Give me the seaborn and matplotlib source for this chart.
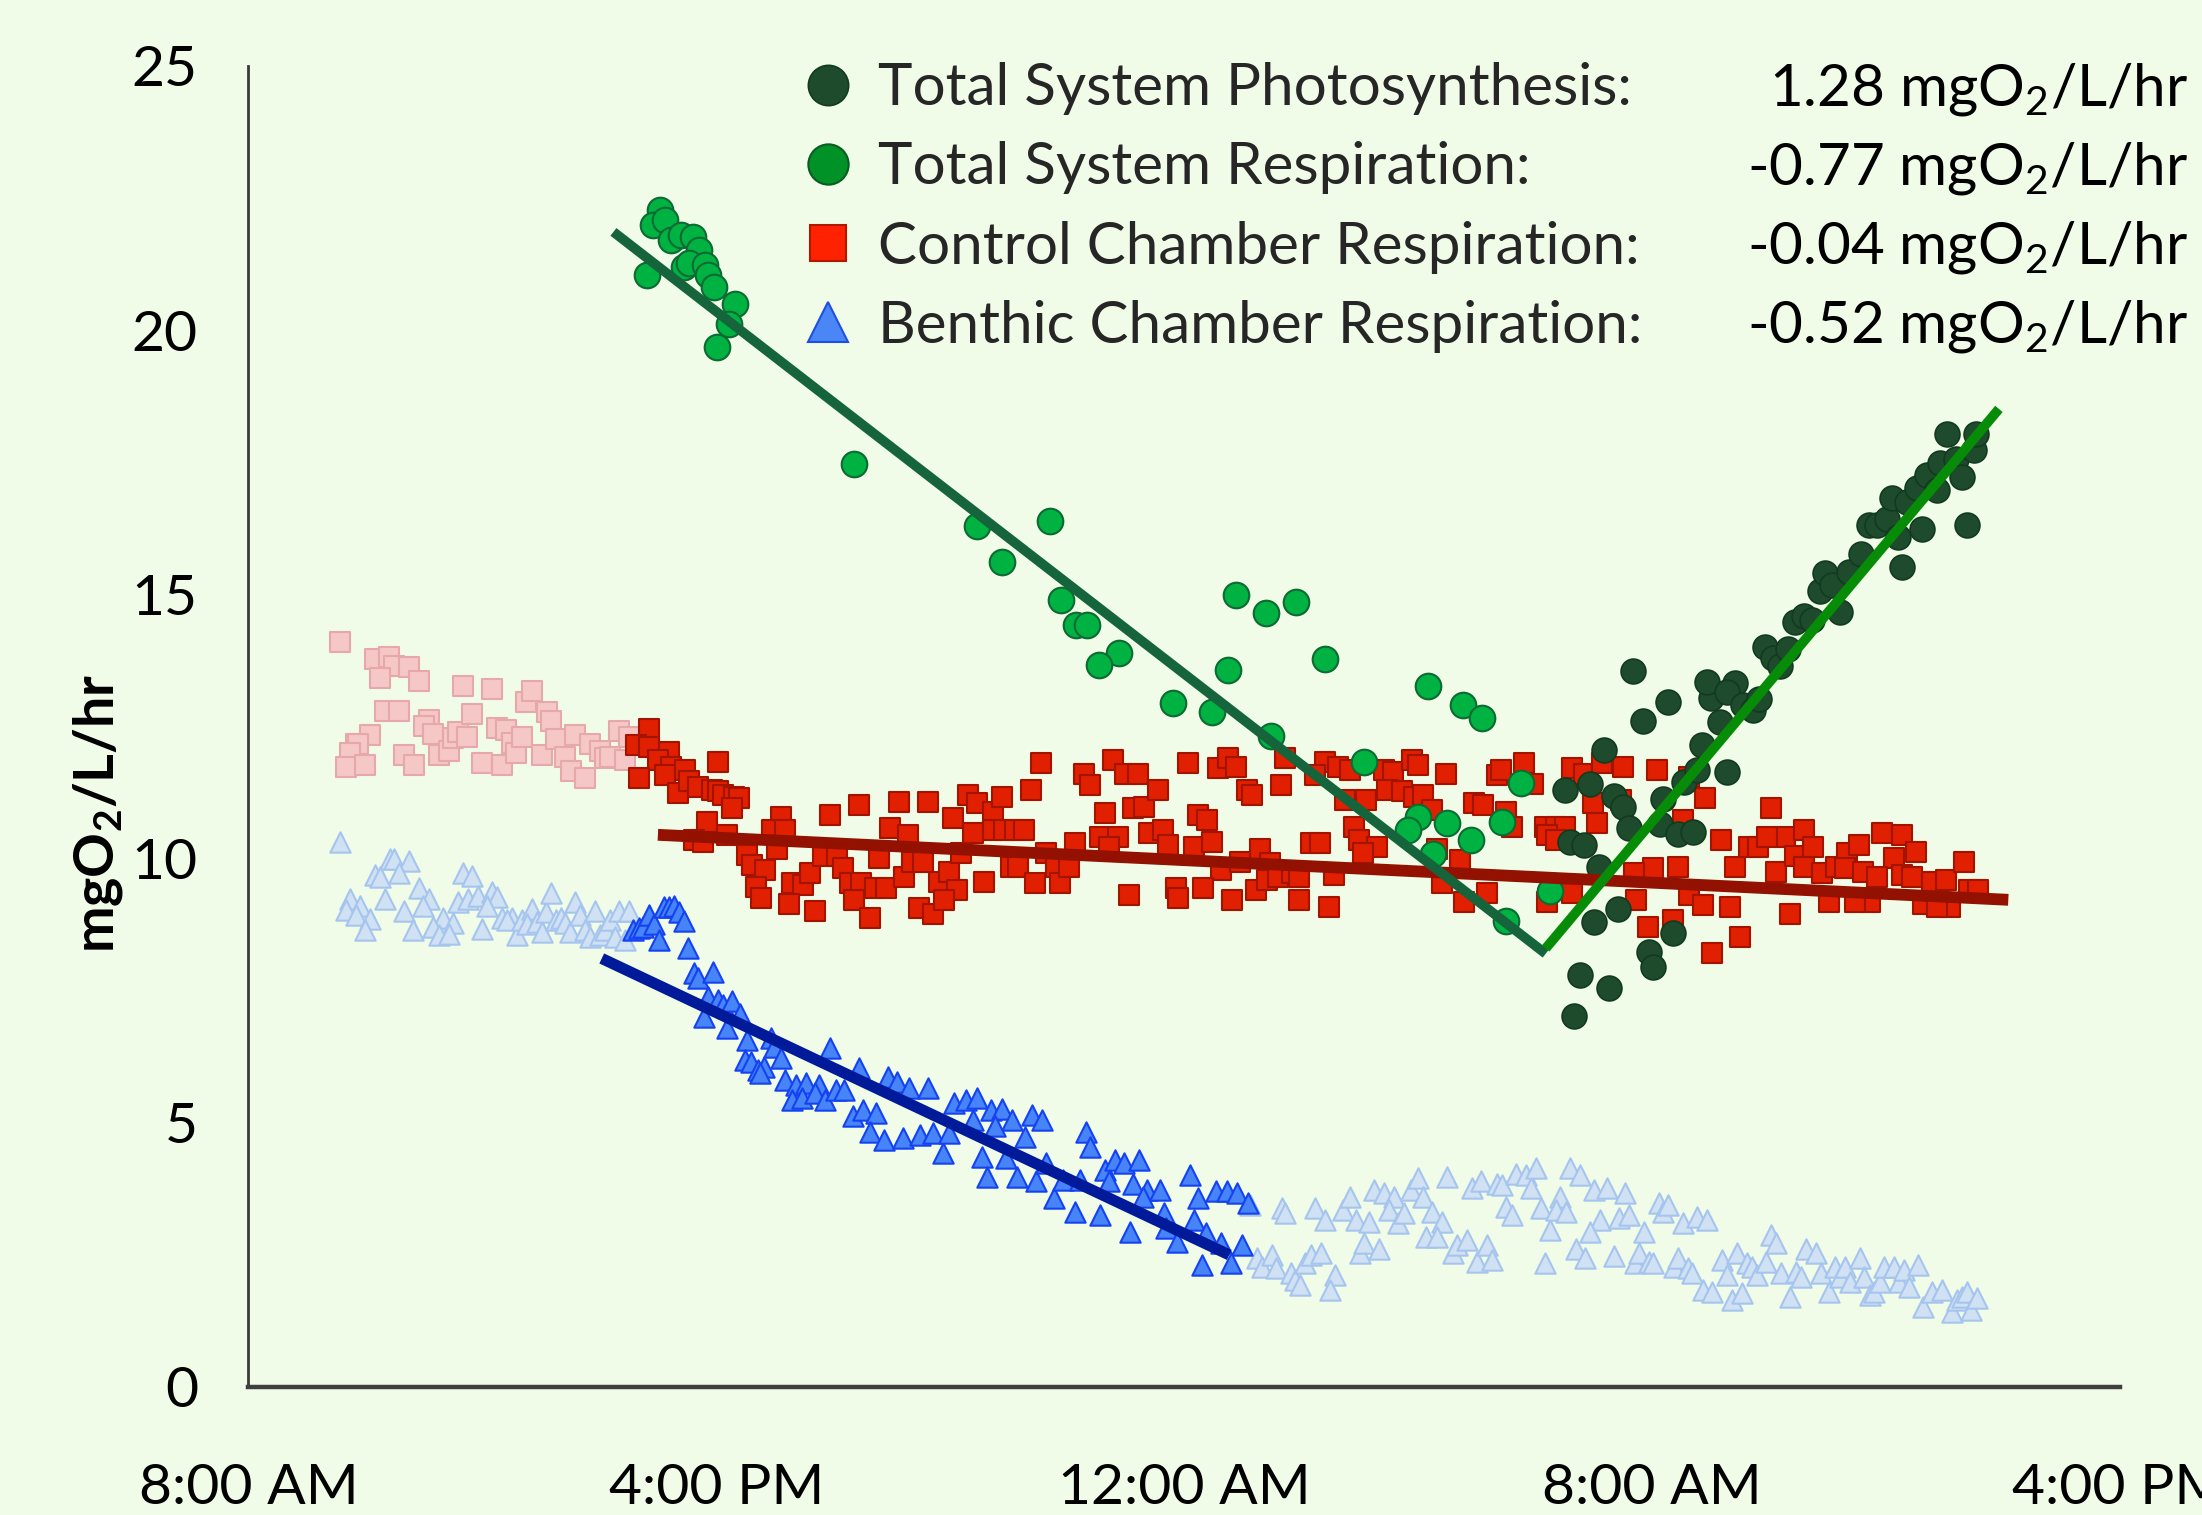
import matplotlib
matplotlib.use("Agg")
import matplotlib.pyplot as plt
import seaborn as sns
import pandas as pd
from matplotlib.lines import Line2D

# ---------------- data (x = hours after 8:00 AM of day 1) ----------------
tick_hours = [0, 8, 16, 24, 32]
tick_labels = ["8:00 AM", "4:00 PM", "12:00 AM", "8:00 AM", "4:00 PM"]
y_ticks = [0, 5, 10, 15, 20, 25]

legend_labels = ["Total System Photosynthesis:", "Total System Respiration:",
                 "Control Chamber Respiration:", "Benthic Chamber Respiration:"]
legend_rates = ["1.28", "-0.77", "-0.04", "-0.52"]

# Control chamber, points excluded from the fit (pale)
ctrl_excl_hours = [1.57, 2.16, 2.41, 2.49, 2.74, 2.91, 2.24, 2.33, 2.58, 2.07,
                   1.83, 1.87, 1.74, 1.66, 1.99, 2.66, 2.83, 3.08, 3.00, 3.16,
                   3.25, 3.42, 3.50, 3.59, 3.66, 3.83, 3.74, 4.00, 4.17, 4.25,
                   4.33, 4.41, 4.50, 4.58, 4.67, 4.75, 4.84, 5.10, 5.18, 5.01,
                   5.26, 5.42, 5.51, 5.59, 5.76, 5.84, 6.01, 6.10, 6.18, 6.34,
                   6.43, 6.51]
ctrl_excl_vals = [14.10, 13.78, 13.81, 13.64, 13.63, 13.36, 13.42, 12.80, 12.79, 12.34,
                  12.17, 12.17, 12.00, 11.73, 11.77, 11.96, 11.78, 12.63, 12.50, 12.36,
                  11.97, 12.03, 12.28, 12.40, 13.27, 12.74, 12.31, 11.81, 13.21, 12.47,
                  11.78, 12.44, 12.19, 12.00, 12.31, 12.97, 13.17, 12.78, 12.60, 11.96,
                  12.27, 11.93, 11.66, 12.34, 11.52, 12.16, 12.03, 11.90, 11.93, 12.42,
                  11.86, 12.31]

# Benthic chamber, points excluded from the fit (pale)
benth_excl_hours = [1.57, 2.42, 2.49, 2.74, 2.16, 2.24, 2.57, 1.74, 1.91, 1.66,
                    1.83, 2.08, 1.99, 2.33, 2.91, 3.08, 2.99, 2.66, 2.82, 3.33,
                    3.16, 3.50, 3.25, 3.42, 3.66, 3.83, 3.58, 3.75, 3.92, 4.17,
                    4.25, 4.08, 4.00, 4.34, 4.50, 4.42, 4.59, 4.67, 4.84, 4.76,
                    4.93, 5.01, 5.09, 5.18, 5.26, 5.34, 5.42, 5.50, 5.59, 5.67,
                    5.75, 5.84, 5.92, 6.01, 6.10, 6.18, 6.26, 6.34, 6.43, 6.51,
                    17.12, 17.67, 17.73, 18.23, 18.41, 18.71, 18.83, 18.93, 19.16, 19.24,
                    19.41, 19.58, 19.50, 19.66, 19.75, 19.88, 20.00, 20.08, 20.23, 20.41,
                    20.14, 20.33, 20.50, 20.92, 21.08, 21.35, 21.43, 21.51, 21.60, 21.68,
                    21.85, 21.93, 22.02, 22.10, 22.26, 22.43, 22.35, 22.52, 22.60, 22.77,
                    23.01, 23.23, 23.53, 23.11, 22.94, 23.44, 23.61, 23.86, 24.11, 24.19,
                    24.27, 24.53, 24.76, 24.93,
                    17.25, 17.33, 17.50, 17.57, 17.83, 17.90, 17.98, 18.07, 18.17, 18.34,
                    18.57, 18.49, 19.00, 19.08, 19.33, 20.59, 20.67, 20.84, 21.01, 21.18,
                    21.26, 22.17, 22.69, 22.85, 23.35, 23.70, 23.77, 23.94, 24.02, 24.37,
                    24.44, 24.61, 24.69, 24.87, 25.03, 25.20, 25.28, 25.37, 25.45, 25.54,
                    25.62, 25.71, 25.80, 25.95, 26.04, 26.11, 26.21, 26.36, 26.46, 26.54,
                    26.63, 26.80, 26.88, 27.03, 27.13, 27.21, 27.30, 27.38, 27.55, 27.63,
                    27.72, 27.80, 27.89, 27.97, 28.14, 28.22, 28.31, 28.39, 28.54, 28.64,
                    28.79, 28.96, 29.13, 29.21, 29.30, 29.38, 29.46, 29.55]
benth_excl_vals = [10.32, 10.00, 10.00, 9.96, 9.69, 9.66, 9.73, 9.23, 9.10, 9.03,
                   8.93, 8.85, 8.65, 9.23, 9.44, 9.23, 9.10, 9.00, 8.64, 8.87,
                   8.71, 8.79, 8.55, 8.58, 9.72, 9.67, 9.17, 9.23, 9.29, 9.36,
                   9.27, 9.10, 8.66, 8.87, 8.87, 8.83, 8.55, 8.83, 9.04, 8.77,
                   8.80, 8.61, 8.99, 9.34, 8.83, 8.87, 8.79, 8.61, 9.17, 8.93,
                   8.65, 8.52, 9.01, 8.55, 8.65, 8.83, 8.52, 9.00, 8.46, 9.00,
                   3.44, 3.38, 3.29, 3.38, 3.16, 3.35, 3.60, 3.16, 3.13, 3.73,
                   3.67, 3.60, 3.35, 3.10, 3.29, 3.73, 3.95, 3.60, 3.32, 3.13,
                   2.84, 2.84, 3.97, 3.76, 3.89, 3.85, 3.82, 3.41, 3.26, 4.04,
                   4.01, 3.76, 4.14, 3.38, 2.97, 3.60, 3.35, 3.32, 4.14, 4.01,
                   3.73, 3.76, 3.67, 3.16, 2.94, 3.19, 3.26, 2.94, 3.48, 3.32,
                   3.44, 3.10, 3.22, 3.16,
                   2.44, 2.28, 2.50, 2.25, 2.15, 2.03, 1.93, 2.34, 2.50, 2.53,
                   2.12, 1.84, 2.53, 2.72, 2.62, 2.53, 2.69, 2.78, 2.37, 2.69,
                   2.40, 2.34, 2.62, 2.44, 2.47, 2.34, 2.53, 2.37, 2.34, 2.28,
                   2.44, 2.25, 2.15, 1.84, 1.80, 2.40, 2.12, 1.65, 2.53, 1.77,
                   2.34, 2.28, 2.12, 2.37, 2.88, 2.72, 2.15, 1.71, 2.18, 2.09,
                   2.62, 2.53, 2.15, 1.80, 2.28, 2.09, 2.28, 1.99, 2.44, 2.09,
                   1.74, 1.80, 1.99, 2.28, 2.28, 1.99, 2.21, 1.90, 2.31, 1.52,
                   1.80, 1.84, 1.42, 1.65, 1.71, 1.80, 1.46, 1.68]

# Control chamber respiration
ctrl_hours = [6.85, 6.62, 6.85, 7.19, 7.00, 7.23, 7.46, 6.68, 7.12, 7.35,
              7.54, 7.69, 7.92, 8.03, 8.11, 8.30, 8.38, 8.26, 8.02, 7.84,
              8.19, 7.61, 7.77, 9.10, 8.95, 9.18, 9.03, 8.53, 8.61, 8.84,
              8.68, 8.76, 9.29, 9.48, 9.25, 9.68, 9.60, 9.83, 10.06, 10.17,
              9.94, 10.44, 11.12, 11.62, 10.97, 11.28, 10.78, 10.29, 10.48, 10.71,
              10.90, 10.36, 10.63, 11.20, 11.35, 11.54, 11.47, 11.70, 11.81, 11.97,
              12.12, 11.89, 12.04, 12.31, 12.46, 12.73, 12.88, 12.39, 12.19, 12.73,
              12.92, 13.11, 13.26, 13.38, 13.55, 13.03, 13.15, 12.58, 13.45, 13.64,
              13.80, 13.88, 14.03, 14.14, 14.29, 14.39, 14.64, 14.79, 14.98, 15.21,
              15.13, 15.32, 15.55, 15.40, 15.63, 14.56, 14.87, 14.71, 15.73, 16.06,
              16.24, 16.39, 16.57, 16.74, 16.89, 17.08, 17.16, 16.16, 16.47, 16.62,
              16.96, 17.30, 17.46, 17.65, 17.73, 15.06, 15.86, 16.32, 15.90, 16.81,
              17.23, 17.42, 17.61, 17.84,
              18.40, 18.63, 18.83, 18.24, 18.75, 19.10, 18.91, 18.99, 19.30, 19.06,
              18.16, 18.32, 17.97, 18.56, 17.97, 18.48, 19.42, 19.57, 19.89, 19.99,
              19.46, 19.73, 19.93, 20.08, 20.24, 20.48, 20.95, 21.10, 21.34, 21.42,
              21.81, 21.97, 21.50, 21.61, 22.16, 22.36, 22.51, 22.20, 22.36, 23.06,
              22.63, 22.83, 23.14, 23.50, 22.99, 23.46, 24.08, 24.91, 24.63, 24.52,
              25.18, 24.01, 24.44, 23.69, 23.73, 22.63, 22.20, 20.40, 20.71, 20.79,
              21.18, 20.32, 23.93, 24.36, 24.63, 24.87, 25.34, 25.03, 25.50, 26.03,
              26.28, 26.60, 25.65, 25.81, 25.97, 25.42, 26.12, 26.44, 26.75, 26.60,
              26.91, 27.15, 27.34, 27.54, 27.93, 28.28, 28.52, 28.13, 27.30, 27.61,
              27.85, 28.28, 28.44, 28.79, 29.02, 29.34, 29.42, 29.58, 26.36, 27.03,
              27.73, 28.63, 29.10, 28.87, 27.47]
ctrl_vals = [12.46, 12.15, 12.12, 12.02, 11.86, 11.74, 11.68, 11.52, 11.58, 11.24,
             11.46, 11.36, 11.30, 11.27, 11.20, 11.17, 11.14, 10.95, 11.83, 10.70,
             10.45, 10.35, 10.32, 10.79, 10.54, 10.54, 10.19, 10.07, 9.88, 9.78,
             9.47, 9.25, 9.53, 9.50, 9.15, 9.00, 9.72, 10.04, 10.04, 9.82,
             10.83, 11.01, 11.08, 11.08, 10.57, 10.45, 10.01, 9.53, 9.53, 9.44,
             9.44, 9.22, 8.87, 9.66, 9.94, 9.94, 9.06, 8.96, 9.56, 9.75,
             9.41, 9.22, 10.76, 11.20, 11.05, 10.89, 11.17, 10.48, 10.10, 10.54,
             10.54, 10.54, 10.54, 11.30, 11.80, 9.85, 9.85, 9.56, 9.53, 10.10,
             9.85, 9.53, 9.85, 10.29, 11.61, 11.39, 10.86, 11.87, 11.61, 11.61,
             10.95, 10.98, 11.30, 10.48, 10.54, 10.41, 10.41, 10.22, 10.26, 11.80,
             10.83, 10.73, 11.71, 11.90, 11.74, 11.30, 11.20, 10.22, 10.32, 9.78,
             9.94, 10.19, 9.91, 11.39, 11.90, 9.31, 9.44, 9.44, 9.25, 9.22,
             9.41, 9.59, 9.66, 9.72,
             11.83, 11.74, 11.68, 11.58, 11.11, 11.11, 10.60, 10.35, 10.22, 10.10,
             10.29, 10.29, 9.66, 9.69, 9.22, 9.09, 11.68, 11.64, 11.87, 11.77,
             11.30, 11.27, 11.17, 11.20, 10.92, 11.61, 11.05, 11.01, 11.58, 11.68,
             11.80, 11.42, 10.89, 10.60, 10.60, 10.60, 10.60, 10.45, 10.35, 10.67,
             11.71, 11.61, 11.80, 11.74, 11.05, 11.11, 11.68, 11.14, 11.55, 10.73,
             10.35, 9.82, 9.85, 9.72, 9.22, 9.34, 9.18, 9.53, 9.97, 9.18,
             9.34, 10.19, 8.71, 8.84, 9.31, 9.12, 9.09, 8.21, 8.52, 10.95,
             10.41, 10.54, 10.22, 10.22, 10.41, 9.85, 9.75, 10.04, 10.22, 9.85,
             9.72, 9.85, 10.10, 10.26, 10.48, 10.45, 10.13, 10.01, 9.82, 9.75,
             9.66, 9.69, 9.66, 9.56, 9.59, 9.94, 9.41, 9.41, 8.96, 9.18,
             9.18, 9.15, 9.09, 9.09, 9.18]

# Benthic chamber respiration
benth_hours = [6.58, 6.67, 6.75, 6.85, 6.94, 7.02, 7.10, 7.19, 7.28, 7.36,
               7.44, 7.52, 7.61, 7.69, 7.94, 7.85, 7.78, 8.02, 8.11, 8.19,
               8.27, 8.41, 8.52, 8.49,
               8.93, 8.99, 9.11, 8.60, 8.71, 8.82, 8.74, 9.18, 9.36, 9.54,
               9.75, 9.29, 9.47, 9.68, 9.86, 10.04, 10.19, 9.94, 10.44, 10.94,
               11.08, 11.30, 11.62, 10.33, 10.51, 10.73, 10.62, 10.87, 11.19, 11.48,
               11.70, 11.88, 11.98, 12.06, 12.27, 12.45, 12.38, 12.70, 12.88, 13.06,
               12.77, 13.39, 13.56, 13.28, 12.55, 12.63, 12.96, 13.14, 13.46, 13.64,
               13.78, 13.93, 14.14, 14.22, 14.32, 14.39, 14.56, 14.65, 14.72, 14.81,
               14.97, 15.22, 15.12, 15.37, 15.58, 15.07, 15.30, 15.66, 15.69, 15.87,
               16.09, 16.23, 16.16, 16.37, 16.55, 16.73, 16.91, 17.09, 16.63, 16.99,
               16.30, 16.80]
benth_vals = [8.65, 8.68, 8.71, 8.93, 8.77, 8.46, 9.08, 9.08, 9.10, 8.98,
              8.81, 8.30, 7.83, 7.74, 7.86, 7.39, 7.01, 7.32, 7.23, 6.79,
              7.30, 7.05, 6.57, 6.19,
              6.60, 6.44, 6.22, 6.16, 6.00, 6.06, 5.94, 5.81, 5.72, 5.75,
              5.72, 5.43, 5.46, 5.56, 5.43, 5.62, 5.62, 6.41, 6.03, 5.87,
              5.78, 5.65, 5.65, 5.12, 5.24, 5.18, 4.83, 4.67, 4.71, 4.77,
              4.80, 4.42, 4.80, 5.37, 5.43, 5.46, 5.05, 5.24, 5.27, 5.05,
              4.93, 5.15, 5.05, 4.74, 4.36, 3.98, 4.33, 3.98, 3.89, 4.23,
              3.57, 3.92, 3.32, 3.92, 4.83, 4.55, 3.26, 4.11, 3.89, 4.30,
              4.23, 4.30, 3.85, 3.73, 3.73, 2.94, 3.60, 3.29, 3.00, 2.75,
              4.01, 3.57, 3.16, 2.91, 3.70, 3.70, 3.68, 3.48, 2.72, 2.69,
              2.31, 2.34]

# Total system respiration
resp_hours = [7.03, 6.92, 7.13, 7.23, 7.39, 7.60, 7.70, 6.82, 7.44, 7.54,
              7.80, 7.86, 7.96, 8.32, 8.22, 8.01, 10.36, 12.45, 13.71, 12.88,
              13.89, 14.15, 14.33, 14.88, 14.54, 15.81, 16.48, 16.89, 17.40, 17.91,
              16.74, 18.40, 17.49, 20.17, 20.76, 21.09, 19.08, 21.76, 20.00, 19.82,
              20.50, 20.91, 21.43, 20.26, 22.26, 21.51]
resp_vals = [22.28, 21.99, 22.09, 21.71, 21.80, 21.76, 21.52, 21.05, 21.19, 21.28,
             21.24, 21.05, 20.82, 20.49, 20.11, 19.69, 17.46, 16.30, 16.39, 15.61,
             14.89, 14.43, 14.43, 13.90, 13.66, 12.94, 12.77, 14.98, 14.65, 14.86,
             13.57, 13.77, 12.32, 13.27, 12.91, 12.67, 11.83, 11.43, 10.79, 10.55,
             10.68, 10.35, 10.70, 10.09, 9.38, 8.81]

# Total system photosynthesis
photo_hours = [23.68, 24.27, 23.85, 23.18, 22.51, 22.93, 23.35, 23.51, 22.59, 22.84,
               23.10, 23.61, 24.18, 24.14, 24.44, 24.70, 24.55, 24.76, 25.28, 24.85,
               25.16, 25.01, 24.93, 25.42, 25.28, 25.56, 25.73, 25.82, 25.93, 26.07,
               26.19, 26.33, 26.44, 26.59, 26.73, 26.87, 26.96, 27.07, 27.21, 27.36,
               27.58, 27.70, 27.84, 28.01, 28.10, 28.21, 28.35, 28.53, 28.61, 28.70,
               28.93, 28.87, 29.04, 29.19, 29.30, 29.50, 29.54, 29.38, 28.28, 23.42,
               23.01, 24.35, 23.94, 24.02, 22.76, 23.26, 22.67]
photo_vals = [13.55, 12.96, 12.60, 12.05, 11.29, 11.42, 11.19, 10.98, 10.32, 10.25,
              9.85, 10.58, 11.13, 10.66, 10.47, 10.51, 11.45, 11.68, 11.64, 12.15,
              12.58, 13.03, 13.35, 13.33, 13.15, 12.90, 12.82, 13.02, 14.00, 13.80,
              13.65, 13.96, 14.47, 14.59, 14.51, 15.06, 15.41, 15.18, 14.67, 15.42,
              15.77, 16.32, 16.32, 16.43, 16.83, 16.08, 16.75, 17.02, 16.24, 17.26,
              17.49, 16.98, 18.04, 17.57, 17.22, 17.73, 18.04, 16.32, 15.51, 9.05,
              8.80, 8.60, 8.23, 7.95, 7.80, 7.55, 7.03]

# Fitted trend lines (end points)
resp_fit_hours = [6.24, 22.18]
resp_fit_vals = [21.86, 8.20]
photo_fit_hours = [22.18, 29.93]
photo_fit_vals = [8.30, 18.51]
ctrl_fit_hours = [7.00, 30.09]
ctrl_fit_vals = [10.45, 9.22]
benth_fit_hours = [6.04, 16.77]
benth_fit_vals = [8.11, 2.50]

# ---------------- styling ----------------
BG = "#F0FCE8"
FS = 41

sns.set_theme(style="white")
plt.rcParams["font.family"] = ["Lato", "DejaVu Sans"]
plt.rcParams["mathtext.default"] = "regular"

fig = plt.figure(figsize=(22.02, 15.15), dpi=100, facecolor=BG)
ax = fig.add_axes([0.11285, 0.08449, 0.84991, 0.87195])
ax.set_facecolor(BG)


def scat(h, v, marker, size, fc, ec, lw, z):
    df = pd.DataFrame({"h": h, "v": v})
    sns.scatterplot(data=df, x="h", y="v", marker=marker, s=size, color=fc,
                    edgecolor=ec, linewidth=lw, ax=ax, zorder=z, legend=False)


def fit(h, v, color, lw, z):
    df = pd.DataFrame({"h": h, "v": v})
    sns.lineplot(data=df, x="h", y="v", color=color, linewidth=lw, ax=ax,
                 estimator=None, sort=False, zorder=z, legend=False,
                 solid_capstyle="butt")


scat(ctrl_excl_hours, ctrl_excl_vals, "s", 200, "#F5C7C7", "#E6A8A8", 1.5, 2)
scat(benth_excl_hours, benth_excl_vals, "^", 215, "#D0E1F4", "#A6C5EE", 1.5, 2)
scat(ctrl_hours, ctrl_vals, "s", 200, "#E02000", "#A31400", 1.5, 3)
scat(benth_hours, benth_vals, "^", 215, "#4684F7", "#1442F2", 1.5, 4)
scat(resp_hours, resp_vals, "o", 340, "#00B242", "#0E6A33", 1.5, 5)
scat(photo_hours, photo_vals, "o", 320, "#1E4B2C", "#123A20", 1.2, 6)

fit(ctrl_fit_hours, ctrl_fit_vals, "#921100", 8.5, 7)
fit(benth_fit_hours, benth_fit_vals, "#001A9A", 8.0, 7)
fit(resp_fit_hours, resp_fit_vals, "#16643C", 7.0, 8)
fit(photo_fit_hours, photo_fit_vals, "#078C07", 7.0, 8)

ax.set_xlim(tick_hours[0], tick_hours[-1])
ax.set_ylim(y_ticks[0], y_ticks[-1])
ax.set_xticks(tick_hours, labels=tick_labels)
ax.set_yticks(y_ticks, labels=[str(t) for t in y_ticks])
ax.tick_params(axis="both", direction="out", length=14.4, width=1.2,
               colors="#222222", labelcolor="black", labelsize=FS)
ax.tick_params(axis="x", pad=40)
ax.tick_params(axis="y", pad=22)
ax.set_xlabel("")
ax.set_ylabel("mgO$_2$/L/hr", fontsize=40, fontweight="bold", color="black")
ax.yaxis.set_label_coords(-0.0660, 0.434)

for side in ["top", "right"]:
    ax.spines[side].set_visible(False)
ax.spines["left"].set_color("#3A3A3A")
ax.spines["left"].set_linewidth(2.0)
ax.spines["bottom"].set_color("#3F3F3F")
ax.spines["bottom"].set_linewidth(3.2)
ax.spines["left"].set_zorder(1)
ax.spines["bottom"].set_zorder(1)

# legend: markers + names
handles = [
    Line2D([], [], linestyle="none", marker="o", markersize=29,
           markerfacecolor="#1E4B2C", markeredgecolor="#123A20", markeredgewidth=1.2),
    Line2D([], [], linestyle="none", marker="o", markersize=29,
           markerfacecolor="#009226", markeredgecolor="#0B5C22", markeredgewidth=1.5),
    Line2D([], [], linestyle="none", marker="s", markersize=26,
           markerfacecolor="#FF2200", markeredgecolor="#B01800", markeredgewidth=1.5),
    Line2D([], [], linestyle="none", marker="^", markersize=29,
           markerfacecolor="#4A86F5", markeredgecolor="#1F4FE0", markeredgewidth=1.5),
]
leg = fig.legend(handles, legend_labels, loc="upper left",
                 bbox_to_anchor=(805 / 2202, 1 - 62 / 1515),
                 frameon=False, fontsize=42, handlelength=0.8,
                 handletextpad=0.45, labelspacing=0.45, borderpad=0,
                 borderaxespad=0)

fig.canvas.draw()
rend = fig.canvas.get_renderer()
value_texts = [f"{r} mgO$_2$/L/hr" for r in legend_rates]
for t, val in zip(leg.get_texts(), value_texts):
    bb = t.get_window_extent(rend)
    _, _, d = rend.get_text_width_height_descent(t.get_text(), t.get_fontproperties(), ismath=False)
    yb = (bb.y0 + d) / fig.bbox.height
    fig.text(2188 / 2202, yb, val, ha="right", va="baseline", fontsize=42, color="black")

fig.savefig("out.png", dpi=100, facecolor=BG)
